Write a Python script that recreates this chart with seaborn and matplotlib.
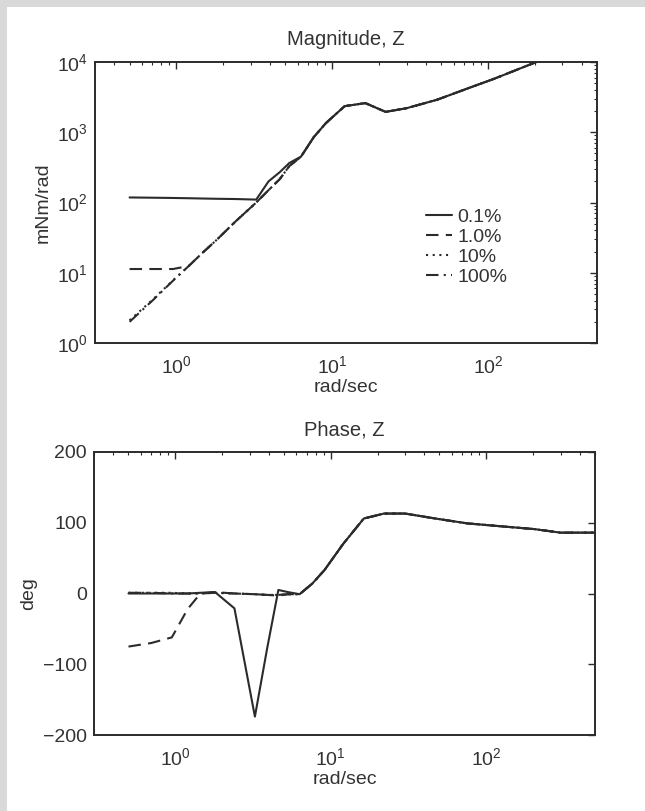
import numpy as np
import pandas as pd
import matplotlib
matplotlib.use("Agg")
import matplotlib.pyplot as plt
import seaborn as sns
from matplotlib.patches import Rectangle
from matplotlib.ticker import LogLocator, NullFormatter, FixedLocator

# ---------------- data ----------------
freq = [0.5, 0.7, 0.95, 1.2, 1.45, 1.8, 2.4, 3.25, 3.9, 4.6, 5.3, 6.3,
        7.6, 9.1, 12, 16.3, 22, 30, 47, 76, 110, 204, 300, 500]
series = ["0.1%", "1.0%", "10%", "100%"]

mag_01 = [118, 117, 116, 115, 114, 113, 112, 110, 200, 270, 365, 450,
          850, 1350, 2350, 2600, 1950, 2200, 2900, 4300, 5800, 10000, 14000, 20000]
mag_1 = [11.3, 11.3, 11.3, 12.5, 18.7, 29, 54, 100, 150, 215, 330, 450,
         850, 1350, 2350, 2600, 1950, 2200, 2900, 4300, 5800, 10000, 14000, 20000]
mag_10 = [2.1, 4.1, 7.8, 12.5, 18.7, 29, 54, 100, 150, 215, 330, 450,
          850, 1350, 2350, 2600, 1950, 2200, 2900, 4300, 5800, 10000, 14000, 20000]
mag_100 = [2.0, 4.0, 7.7, 12.5, 18.7, 29, 54, 100, 150, 215, 330, 450,
           850, 1350, 2350, 2600, 1950, 2200, 2900, 4300, 5800, 10000, 14000, 20000]

ph_01 = [0, 0, 0, 0, 1, 2, -21, -174, -77, 5, 2, -1,
         14, 33, 70, 106, 113, 113, 106, 99, 96, 91, 86, 86]
ph_1 = [-75, -70, -62, -22, 0, 2, 0, -1, -2, -3, -1, -1,
        14, 33, 70, 106, 113, 113, 106, 99, 96, 91, 86, 86]
ph_10 = [1, 1, 1, 0, 0, 1, 0, -1, -2, -2, -1, -1,
         14, 33, 70, 106, 113, 113, 106, 99, 96, 91, 86, 86]
ph_100 = [1, 1, 0, 0, 0, 1, 0, -1, -2, -2, -1, -1,
          14, 33, 70, 106, 113, 113, 106, 99, 96, 91, 86, 86]

mags = [mag_01, mag_1, mag_10, mag_100]
phases = [ph_01, ph_1, ph_10, ph_100]

df = pd.concat([
    pd.DataFrame({"freq": freq, "mag": m, "phase": p, "series": s})
    for s, m, p in zip(series, mags, phases)
], ignore_index=True)

# ---------------- style ----------------
sns.set_theme(style="white")
plt.rcParams["font.family"] = ["Liberation Sans", "DejaVu Sans"]
plt.rcParams["mathtext.default"] = "regular"

ink = "#2b2b2b"
txt = "#333333"
fs = 14
dash_map = {"0.1%": "", "1.0%": (6, 3.5), "10%": (1, 2.2), "100%": (6, 2.5, 1, 2.5)}

fig = plt.figure(figsize=(6.45, 8.11), dpi=100)
fig.patch.set_facecolor("white")
fig.patches.append(Rectangle((0, 0), 7 / 645, 1, transform=fig.transFigure,
                             facecolor="#d9d9d9", edgecolor="none", zorder=-1))
fig.patches.append(Rectangle((0, 1 - 7 / 811), 1, 7 / 811, transform=fig.transFigure,
                             facecolor="#d9d9d9", edgecolor="none", zorder=-1))

ax1 = fig.add_axes([95 / 645, 1 - 343 / 811, 502 / 645, 281 / 811])
ax2 = fig.add_axes([94 / 645, 1 - 735 / 811, 501 / 645, 283 / 811])

sns.lineplot(data=df, x="freq", y="mag", style="series", style_order=series,
             dashes=dash_map, color=ink, linewidth=1.5, estimator=None,
             errorbar=None, ax=ax1)
sns.lineplot(data=df, x="freq", y="phase", style="series", style_order=series,
             dashes=dash_map, color=ink, linewidth=1.5, estimator=None,
             errorbar=None, ax=ax2, legend=False)

for ax in (ax1, ax2):
    ax.set_xscale("log")
    ax.set_xlim(0.3, 500)
    ax.xaxis.set_major_locator(LogLocator(base=10, numticks=10))
    ax.xaxis.set_minor_locator(LogLocator(base=10, subs=np.arange(2, 10), numticks=20))
    ax.xaxis.set_minor_formatter(NullFormatter())
    ax.tick_params(which="both", direction="in", top=True, right=True,
                   colors=ink, labelcolor=txt, labelsize=fs)
    ax.tick_params(which="major", length=5, width=1.0)
    ax.tick_params(which="minor", length=2.5, width=0.8)
    ax.tick_params(axis="x", which="major", pad=9)
    ax.tick_params(axis="y", which="major", pad=5)
    for sp in ax.spines.values():
        sp.set_color(ink)
        sp.set_linewidth(1.4)
    ax.set_xlabel("rad/sec", fontsize=fs, color=txt, labelpad=1)

ax1.set_yscale("log")
ax1.set_ylim(1, 1e4)
ax1.yaxis.set_major_locator(LogLocator(base=10, numticks=10))
ax1.yaxis.set_minor_locator(LogLocator(base=10, subs=np.arange(2, 10), numticks=20))
ax1.yaxis.set_minor_formatter(NullFormatter())
ax1.set_ylabel("mNm/rad", fontsize=fs, color=txt, labelpad=4)
ax1.set_title("Magnitude, Z", fontsize=14.5, color=txt, pad=12)

ax2.set_ylim(-200, 200)
ax2.yaxis.set_major_locator(FixedLocator([-200, -100, 0, 100, 200]))
ax2.set_ylabel("deg", fontsize=fs, color=txt, labelpad=4)
ax2.set_title("Phase, Z", fontsize=14.5, color=txt, pad=12)

sns.move_legend(ax1, "upper left", bbox_to_anchor=(0.66, 0.48), frameon=False,
                title=None, fontsize=fs, handlelength=1.3, handletextpad=0.3,
                labelspacing=0.12, borderpad=0, borderaxespad=0)
for t in ax1.get_legend().get_texts():
    t.set_color(txt)

fig.savefig("out.png", dpi=100, facecolor="white")
